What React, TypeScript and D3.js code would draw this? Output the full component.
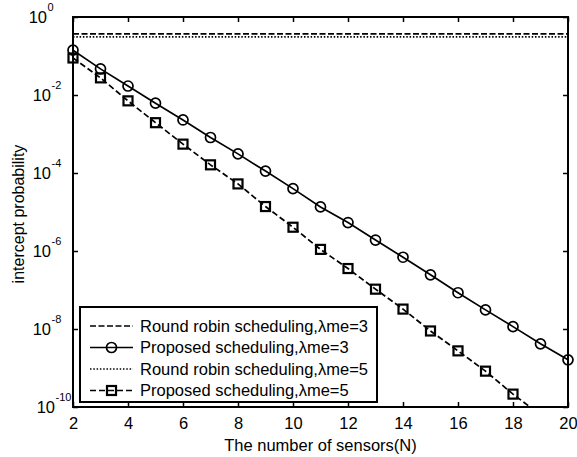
import { useEffect, useRef } from "react";
import * as d3 from "d3";

// number of sensors on the x axis
const sensors = [2, 3, 4, 5, 6, 7, 8, 9, 10, 11, 12, 13, 14, 15, 16, 17, 18, 19, 20];

// intercept probability
const roundRobin3 = [0.37, 0.37, 0.37, 0.37, 0.37, 0.37, 0.37, 0.37, 0.37, 0.37, 0.37, 0.37, 0.37, 0.37, 0.37, 0.37, 0.37, 0.37, 0.37];
const proposed3 = [1.41e-1, 4.68e-2, 1.7e-2, 6.17e-3, 2.29e-3, 8.13e-4, 3.09e-4, 1.12e-4, 3.98e-5, 1.35e-5, 5.37e-6, 1.91e-6, 6.92e-7, 2.45e-7, 8.51e-8, 3.09e-8, 1.15e-8, 4.17e-9, 1.62e-9];
const roundRobin5 = [0.31, 0.31, 0.31, 0.31, 0.31, 0.31, 0.31, 0.31, 0.31, 0.31, 0.31, 0.31, 0.31, 0.31, 0.31, 0.31, 0.31, 0.31, 0.31];
const proposed5 = [8.9e-2, 2.75e-2, 7.08e-3, 1.95e-3, 5.5e-4, 1.62e-4, 5.25e-5, 1.38e-5, 4.07e-6, 1.1e-6, 3.55e-7, 1.05e-7, 3.24e-8, 8.9e-9, 2.75e-9, 8.3e-10, 2.14e-10, 6.3e-11, 1.8e-11];

const xTicks = [2, 4, 6, 8, 10, 12, 14, 16, 18, 20];
const yTicks = [1, 1e-2, 1e-4, 1e-6, 1e-8, 1e-10];
const yExponents = ["0", "-2", "-4", "-6", "-8", "-10"];

const legendLabels = [
  "Round robin scheduling,\u03bbme=3",
  "Proposed scheduling,\u03bbme=3",
  "Round robin scheduling,\u03bbme=5",
  "Proposed scheduling,\u03bbme=5",
];

const FONT = "'Liberation Sans', Arial, Helvetica, sans-serif";

export default function App() {
  const ref = useRef<SVGSVGElement>(null);

  useEffect(() => {
    const svg = d3.select(ref.current);
    svg.selectAll("*").remove();

    const left = 73, right = 568, top = 17, bottom = 407;
    const x = d3.scaleLinear().domain([2, 20]).range([left, right]);
    const y = d3.scaleLog().domain([1e-10, 1]).range([bottom, top]);

    const series = [
      { values: roundRobin3, dash: "6,2.5", marker: "none" },
      { values: proposed3, dash: null, marker: "circle" },
      { values: roundRobin5, dash: "1.5,1.8", marker: "none" },
      { values: proposed5, dash: "6,3", marker: "square" },
    ];

    svg.append("defs").append("clipPath").attr("id", "plot")
      .append("rect").attr("x", left).attr("y", top)
      .attr("width", right - left).attr("height", bottom - top);

    const line = d3.line<number>()
      .x((_, i) => x(sensors[i]))
      .y((d) => y(d));

    const g = svg.append("g");

    // lines
    series.forEach((s) => {
      g.append("path")
        .attr("d", line(s.values))
        .attr("fill", "none")
        .attr("stroke", "#000")
        .attr("stroke-width", 1.7)
        .attr("stroke-dasharray", s.dash)
        .attr("clip-path", "url(#plot)");
    });

    const drawMarker = (sel: any, kind: string, cx: number, cy: number) => {
      if (kind === "circle") {
        sel.append("circle").attr("cx", cx).attr("cy", cy).attr("r", 5)
          .attr("fill", "none").attr("stroke", "#000").attr("stroke-width", 1.7);
      } else if (kind === "square") {
        sel.append("rect").attr("x", cx - 4.5).attr("y", cy - 4.5)
          .attr("width", 9).attr("height", 9)
          .attr("fill", "none").attr("stroke", "#000").attr("stroke-width", 2.2);
      }
    };

    // markers (only those inside the y range)
    series.forEach((s) => {
      s.values.forEach((v, i) => {
        if (v < 1e-10 || v > 1) return;
        drawMarker(g, s.marker, x(sensors[i]), y(v));
      });
    });

    // axes, ticks pointing inward
    const axisStyle = (a: any) => {
      a.select(".domain").remove();
      a.selectAll("line").attr("stroke", "#000").attr("stroke-width", 1.5);
      a.selectAll("text").attr("font-family", FONT).attr("font-size", 16.5).attr("fill", "#000");
    };

    svg.append("g").attr("transform", `translate(0,${bottom})`)
      .call(d3.axisBottom(x).tickValues(xTicks).tickSize(-5).tickPadding(10).tickFormat(d3.format("d")))
      .call(axisStyle);
    svg.append("g").attr("transform", `translate(0,${top})`)
      .call(d3.axisTop(x).tickValues(xTicks).tickSize(-5).tickFormat(() => ""))
      .call(axisStyle);
    const yAxis = svg.append("g").attr("transform", `translate(${left},0)`)
      .call(d3.axisLeft(y).tickValues(yTicks).tickSize(-5).tickFormat(() => ""))
      .call(axisStyle);
    svg.append("g").attr("transform", `translate(${right},0)`)
      .call(d3.axisRight(y).tickValues(yTicks).tickSize(-5).tickFormat(() => ""))
      .call(axisStyle);

    // log labels 10^n
    yAxis.selectAll(".tick").each(function (_d, i) {
      const t = d3.select(this);
      const exp = yExponents[i];
      const baseEnd = 43 + exp.length * 4 - left;
      t.append("text").attr("x", baseEnd).attr("dy", "0.35em")
        .attr("text-anchor", "end").attr("font-family", FONT)
        .attr("font-size", 16.5).attr("fill", "#000").text("10");
      t.append("text").attr("x", baseEnd + 0.5).attr("y", -7)
        .attr("text-anchor", "start").attr("font-family", FONT)
        .attr("font-size", 11).attr("fill", "#000").text(exp);
    });

    // frame
    svg.append("rect").attr("x", left).attr("y", top)
      .attr("width", right - left).attr("height", bottom - top)
      .attr("fill", "none").attr("stroke", "#000").attr("stroke-width", 2);

    // axis titles
    svg.append("text").attr("x", (left + right) / 2).attr("y", 451)
      .attr("text-anchor", "middle").attr("font-family", FONT).attr("font-size", 16.5)
      .text("The number of sensors(N)");
    svg.append("text").attr("transform", `translate(24,214) rotate(-90)`)
      .attr("text-anchor", "middle").attr("font-family", FONT).attr("font-size", 16)
      .text("intercept probability");

    // legend
    const lg = svg.append("g");
    lg.append("rect").attr("x", 80).attr("y", 307).attr("width", 297).attr("height", 95)
      .attr("fill", "#fff").attr("stroke", "#000").attr("stroke-width", 2);
    const rowY = d3.scaleLinear().domain([0, 3]).range([326, 390.5]);
    series.forEach((s, i) => {
      const cy = rowY(i);
      lg.append("line").attr("x1", 90).attr("x2", 133).attr("y1", cy).attr("y2", cy)
        .attr("stroke", "#000").attr("stroke-width", 1.7).attr("stroke-dasharray", s.dash);
      drawMarker(lg, s.marker, 111.5, cy);
      lg.append("text").attr("x", 140).attr("y", cy).attr("dy", "0.36em")
        .attr("font-family", FONT).attr("font-size", 16.5).text(legendLabels[i]);
    });
  }, []);

  return (
    <svg ref={ref} width={577} height={457}
      style={{ position: "absolute", left: 0, top: 0, background: "#fff" }} />
  );
}
